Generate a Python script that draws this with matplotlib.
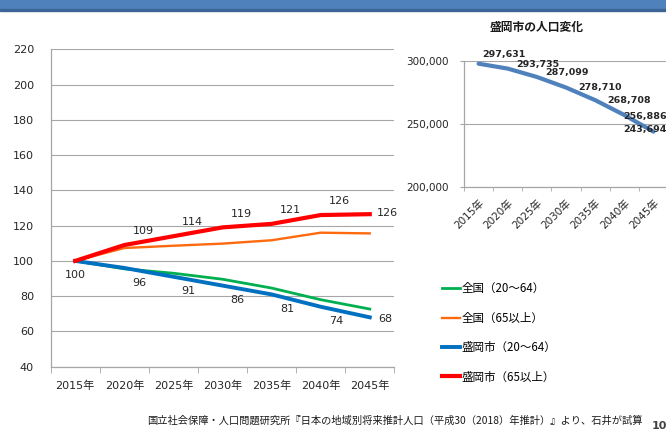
import numpy as np
import matplotlib
matplotlib.use('Agg')
import matplotlib.pyplot as plt
from matplotlib.patches import Rectangle

plt.rcParams['font.family'] = ['DejaVu Sans', 'Noto Sans CJK JP']

years = ['2015年', '2020年', '2025年', '2030年', '2035年', '2040年', '2045年']

# index (2015 = 100)
zenkoku_work = [100, 95.5, 93, 89.6, 84.6, 78, 72.7]
zenkoku_old = [100, 107.3, 108.6, 109.8, 111.7, 116, 115.6]
morioka_work = [100, 96, 91, 86, 81, 74, 68]
morioka_old = [100, 109, 114, 119, 121, 126, 126.5]
morioka_work_labels = ['100', '96', '91', '86', '81', '74', '68']
morioka_old_labels = ['', '109', '114', '119', '121', '126', '126']

# Morioka total population
pop = [297631, 293735, 287099, 278710, 268708, 256886, 243694]

W, H = 666, 432
fig = plt.figure(figsize=(W / 100, H / 100), dpi=100)


def px_axes(x0, y0, x1, y1):
    return fig.add_axes([x0 / W, 1 - y1 / H, (x1 - x0) / W, (y1 - y0) / H])


# header banner
fig.patches.append(Rectangle((0, 1 - 9 / H), 1, 9 / H, transform=fig.transFigure,
                             color='#4F81BD', zorder=0))
fig.patches.append(Rectangle((0, 1 - 11 / H), 1, 2 / H, transform=fig.transFigure,
                             color='#3D6496', zorder=0))

# ---- main chart ----
ax = px_axes(50.7, 49.3, 394.3, 366.7)
x = np.arange(len(years))
ax.plot(x, zenkoku_work, color='#00B050', lw=2.0, label='全国（20～64）', zorder=3)
ax.plot(x, zenkoku_old, color='#FF6A10', lw=1.7, label='全国（65以上）', zorder=3)
ax.plot(x, morioka_work, color='#0070C0', lw=2.8, label='盛岡市（20～64）', zorder=4)
ax.plot(x, morioka_old, color='#FF0000', lw=3.0, label='盛岡市（65以上）', zorder=5)

ax.set_xlim(-0.5, 6.5)
ax.set_ylim(40, 220)
ax.set_yticks(range(40, 221, 20))
ax.grid(axis='y', color='#A6A6A6', lw=0.8)
ax.set_axisbelow(True)
ax.set_xticks(x)
ax.set_xticklabels(years)
ax.set_xticks(np.arange(-0.5, 7, 1), minor=True)
ax.tick_params(axis='x', which='major', length=0, pad=10, labelsize=8, labelcolor='#262626')
ax.tick_params(axis='x', which='minor', length=4, color='#A6A6A6', direction='out')
ax.tick_params(axis='y', length=0, pad=12, labelsize=8, labelcolor='#262626')
for s in ['top', 'right']:
    ax.spines[s].set_visible(False)
for s in ['left', 'bottom']:
    ax.spines[s].set_color('#A6A6A6')
    ax.spines[s].set_linewidth(0.9)

for i, t in enumerate(morioka_old_labels):
    if not t:
        continue
    off = (13, 1) if i == len(x) - 1 else (13.5, 10)
    ax.annotate(t, (x[i], morioka_old[i]), xytext=off, textcoords='offset points',
                ha='center', va='center', fontsize=8, color='#262626')
for i, t in enumerate(morioka_work_labels):
    if i == 0:
        off = (0, -10)
    elif i == len(x) - 1:
        off = (11, -1)
    else:
        off = (11, -10.5)
    ax.annotate(t, (x[i], morioka_work[i]), xytext=off, textcoords='offset points',
                ha='center', va='center', fontsize=8, color='#262626')

# legend
fig.legend(loc='upper left', bbox_to_anchor=(432 / W, 1 - 272 / H), frameon=False,
           handlelength=1.5, handletextpad=0.15, labelspacing=1.42,
           prop={'family': ['Noto Sans CJK JP'], 'size': 8.3})

# ---- Morioka population chart ----
ax2 = px_axes(464, 60.7, 668, 186.7)
ax2.plot(x, pop, color='#4F81BD', lw=3.0, solid_capstyle='round', clip_on=False)
ax2.set_xlim(-0.5, 6.5)
ax2.set_ylim(200000, 300000)
ax2.set_yticks([200000, 250000, 300000])
ax2.set_yticklabels([f'{v:,}' for v in [200000, 250000, 300000]])
ax2.grid(axis='y', color='#A6A6A6', lw=0.8)
ax2.set_axisbelow(True)
ax2.set_xticks(x)
ax2.set_xticklabels(years, rotation=45, ha='right', va='top', rotation_mode='anchor')
ax2.set_xticks(np.arange(-0.5, 7, 1), minor=True)
ax2.tick_params(axis='x', which='major', length=0, pad=8, labelsize=7.5, labelcolor='#262626')
ax2.tick_params(axis='x', which='minor', length=3, color='#A6A6A6')
ax2.tick_params(axis='y', length=3, color='#A6A6A6', pad=8, labelsize=7.5, labelcolor='#262626')
for s in ['top', 'right']:
    ax2.spines[s].set_visible(False)
for s in ['left', 'bottom']:
    ax2.spines[s].set_color('#A6A6A6')
    ax2.spines[s].set_linewidth(0.9)

pop_offsets = [(3, 6.5), (6, 2.6), (6, 3), (9, 0), (9, 0), (-1, -1), (-22, 1.5)]
for i, v in enumerate(pop):
    dx, dy = pop_offsets[i]
    ax2.annotate(f'{v:,}', (x[i], v), xytext=(dx, dy), textcoords='offset points',
                 ha='left', va='center', fontsize=6.8, fontweight='bold',
                 color='#262626', annotation_clip=False)

fig.text(537 / W, 1 - 27 / H, '盛岡市の人口変化', ha='center', va='center',
         fontsize=8.5, fontweight='bold', family=['Noto Sans CJK JP'], color='#1A1A1A')

fig.text(147 / W, 1 - 421 / H,
         '国立社会保障・人口問題研究所『日本の地域別将来推計人口（平成30（2018）年推計）』より、石井が試算',
         ha='left', va='center', fontsize=7.4, family=['Noto Sans CJK JP'], color='#1A1A1A')
fig.text(652 / W, 1 - 421 / H, '10', ha='left', va='top', fontsize=8,
         fontweight='bold', color='#404040')

fig.savefig('out.png', dpi=100)
